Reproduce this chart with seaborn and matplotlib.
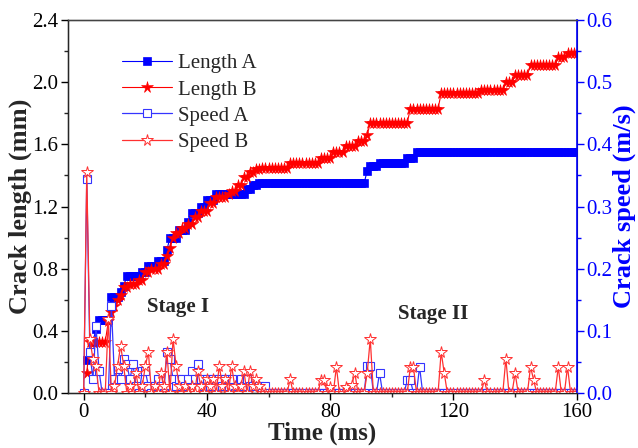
import numpy as np
import pandas as pd
import matplotlib
matplotlib.use("Agg")
import matplotlib.pyplot as plt
import seaborn as sns
from matplotlib.ticker import MultipleLocator, FormatStrFormatter

# -------------------------------------------------
# DATA
# -------------------------------------------------
# crack length: step levels (mm) and how many 1 ms samples each lasts, starting at t = 1 ms
length_a_levels = [0.21, 0.26, 0.33, 0.41, 0.47, 0.62, 0.65, 0.69, 0.75, 0.78,
                   0.82, 0.85, 0.92, 1.00, 1.05, 1.10, 1.16, 1.20, 1.24, 1.28,
                   1.31, 1.34, 1.35, 1.43, 1.46, 1.48, 1.51, 1.55]
length_a_runs = [1, 1, 1, 1, 4, 3, 1, 1, 5, 2,
                 3, 3, 1, 3, 3, 1, 3, 2, 3, 10,
                 2, 2, 35, 1, 3, 9, 3, 53]

length_b_levels = [0.13, 0.33, 0.46, 0.52, 0.56, 0.60, 0.63, 0.68, 0.70, 0.73,
                   0.78, 0.80, 0.83, 0.88, 0.93, 1.00, 1.03, 1.06, 1.09, 1.13,
                   1.17, 1.22, 1.26, 1.28, 1.30, 1.34, 1.39, 1.42, 1.44, 1.45,
                   1.48, 1.51, 1.55, 1.59, 1.62, 1.66, 1.74, 1.83, 1.93, 1.95,
                   2.00, 2.05, 2.11, 2.16, 2.19]
length_b_runs = [1, 6, 1, 1, 1, 1, 1, 2, 3, 2,
                 2, 3, 2, 1, 1, 1, 2, 2, 2, 2,
                 3, 2, 4, 1, 2, 2, 2, 2, 2, 9,
                 10, 4, 4, 4, 3, 1, 13, 10, 13, 8,
                 3, 5, 9, 3, 4]

# crack speed (m/s): zero except at these sample times (ms)
speed_a_times = [1, 2, 3, 4, 5, 9, 10, 11, 12, 13, 14, 15, 16, 17, 19, 20, 21, 23, 24, 25,
                 27, 28, 29, 30, 31, 32, 33, 34, 35, 36, 37, 38, 39, 40, 41, 42, 43, 44, 45, 46,
                 47, 48, 50, 51, 52, 53, 54, 55, 56, 57, 59, 92, 93, 96, 105, 106, 109]
speed_a_values = [0.345, 0.066, 0.022, 0.108, 0.035, 0.140, 0.022, 0.038, 0.022, 0.054,
                  0.046, 0.022, 0.046, 0.011, 0.035, 0.035, 0.011, 0.011, 0.022, 0.011,
                  0.066, 0.054, 0.022, 0.011, 0.022, 0.022, 0.011, 0.022, 0.035, 0.022,
                  0.046, 0.022, 0.011, 0.022, 0.011, 0.022, 0.011, 0.022, 0.011, 0.022,
                  0.011, 0.022, 0.011, 0.022, 0.011, 0.022, 0.011, 0.011, 0.011, 0.011,
                  0.011, 0.044, 0.044, 0.032, 0.021, 0.021, 0.042]

speed_b_times = [1, 2, 3, 4, 8, 10, 11, 12, 13, 15, 17, 19, 20, 21, 23, 25, 26, 27, 29, 30,
                 31, 33, 35, 37, 38, 40, 41, 42, 44, 45, 46, 48, 49, 51, 52, 54, 55, 56, 57, 67,
                 77, 78, 80, 82, 85, 87, 88, 92, 93, 106, 107, 116, 117, 130, 137, 140, 145, 146,
                 154, 157]
speed_b_values = [0.355, 0.087, 0.055, 0.043, 0.119, 0.011, 0.043, 0.076, 0.043, 0.011,
                  0.032, 0.011, 0.043, 0.066, 0.011, 0.032, 0.011, 0.066, 0.087, 0.043,
                  0.011, 0.011, 0.011, 0.035, 0.011, 0.022, 0.011, 0.022, 0.044, 0.011,
                  0.022, 0.044, 0.011, 0.011, 0.035, 0.035, 0.011, 0.022, 0.011, 0.022,
                  0.021, 0.021, 0.010, 0.042, 0.010, 0.013, 0.032, 0.032, 0.087, 0.042,
                  0.042, 0.066, 0.032, 0.021, 0.055, 0.032, 0.042, 0.021, 0.042, 0.042]

t_end = 160

BLUE = "#0000FF"
BLUE_LT = "#3535FF"
RED = "#FF0000"
RED_LT = "#FF3030"

# -------------------------------------------------
# TABLES
# -------------------------------------------------
len_df = pd.DataFrame({
    "time": np.arange(1, t_end + 1),
    "length_a": np.repeat(length_a_levels, length_a_runs),
    "length_b": np.repeat(length_b_levels, length_b_runs),
})

spd_df = pd.DataFrame({"time": np.arange(0, t_end + 1)})
spd_df["speed_a"] = 0.0
spd_df["speed_b"] = 0.0
spd_df.loc[spd_df["time"].isin(speed_a_times), "speed_a"] = speed_a_values
spd_df.loc[spd_df["time"].isin(speed_b_times), "speed_b"] = speed_b_values

# -------------------------------------------------
# PLOT
# -------------------------------------------------
sns.set_style("ticks")
plt.rcParams["font.family"] = ["Liberation Serif", "DejaVu Serif"]

fig, ax = plt.subplots(figsize=(6.38, 4.48), dpi=100)
fig.subplots_adjust(left=0.107, right=0.904, bottom=0.123, top=0.955)
ax2 = ax.twinx()

sns.lineplot(data=len_df, x="time", y="length_a", ax=ax, estimator=None, legend=False,
             color=BLUE, lw=0.8, marker="s", markersize=5.8, markerfacecolor=BLUE,
             markeredgecolor=BLUE, markeredgewidth=0.5, label="Length A")
sns.lineplot(data=len_df, x="time", y="length_b", ax=ax, estimator=None, legend=False,
             color=RED, lw=0.8, marker="*", markersize=8.5, markerfacecolor=RED,
             markeredgecolor=RED, markeredgewidth=0.4, label="Length B")

sns.lineplot(data=spd_df, x="time", y="speed_a", ax=ax2, estimator=None, legend=False,
             color=BLUE_LT, lw=0.9, marker="s", markersize=5.8, markerfacecolor="white",
             markeredgecolor=BLUE_LT, markeredgewidth=0.8, label="Speed A")
sns.lineplot(data=spd_df, x="time", y="speed_b", ax=ax2, estimator=None, legend=False,
             color=RED_LT, lw=0.9, marker="*", markersize=8.5, markerfacecolor="white",
             markeredgecolor=RED_LT, markeredgewidth=0.7, label="Speed B")

ax.set_xlim(-5, 160)
ax.set_ylim(0, 2.4)
ax2.set_ylim(0, 0.6)

ax.xaxis.set_major_locator(MultipleLocator(40))
ax.xaxis.set_minor_locator(MultipleLocator(20))
ax.yaxis.set_major_locator(MultipleLocator(0.4))
ax.yaxis.set_minor_locator(MultipleLocator(0.2))
ax.yaxis.set_major_formatter(FormatStrFormatter("%.1f"))
ax2.yaxis.set_major_locator(MultipleLocator(0.1))
ax2.yaxis.set_minor_locator(MultipleLocator(0.05))
ax2.yaxis.set_major_formatter(FormatStrFormatter("%.1f"))

ax.tick_params(axis="both", which="major", direction="out", length=5, width=1,
               labelsize=15, colors="black", pad=2)
ax.tick_params(axis="both", which="minor", direction="out", length=3, width=1)
ax2.tick_params(axis="y", which="major", direction="out", length=5, width=1,
                labelsize=15, colors=BLUE, pad=2)
ax2.tick_params(axis="y", which="minor", direction="out", length=3, width=1, colors=BLUE)

for side in ["left", "bottom", "top"]:
    ax.spines[side].set_color("black")
    ax.spines[side].set_linewidth(1)
ax2.spines["right"].set_color(BLUE)
ax2.spines["right"].set_linewidth(1.2)
ax2.spines["top"].set_color("#444444")

ax.set_xlabel("Time (ms)", fontsize=18, fontweight="bold")
ax.xaxis.set_label_coords(0.5, -0.078)
ax.set_ylabel("Crack length (mm)", fontsize=19, fontweight="bold")
ax.yaxis.set_label_coords(-0.072, 0.5)
ax2.set_ylabel("Crack speed (m/s)", fontsize=19, fontweight="bold", color=BLUE)
ax2.yaxis.set_label_coords(1.07, 0.5)

ax.text(30.5, 0.55, "Stage I", fontsize=15, fontweight="bold", ha="center", va="center")
ax.text(113.5, 0.51, "Stage II", fontsize=15, fontweight="bold", ha="center", va="center")

h1, l1 = ax.get_legend_handles_labels()
h2, l2 = ax2.get_legend_handles_labels()
ax2.legend(h1 + h2, l1 + l2, loc="upper left", bbox_to_anchor=(0.105, 0.91),
           frameon=False, fontsize=15, handlelength=2.4, handletextpad=0.3,
           labelspacing=0.32, borderaxespad=0, borderpad=0, numpoints=1)

fig.savefig("out.png", dpi=100)
